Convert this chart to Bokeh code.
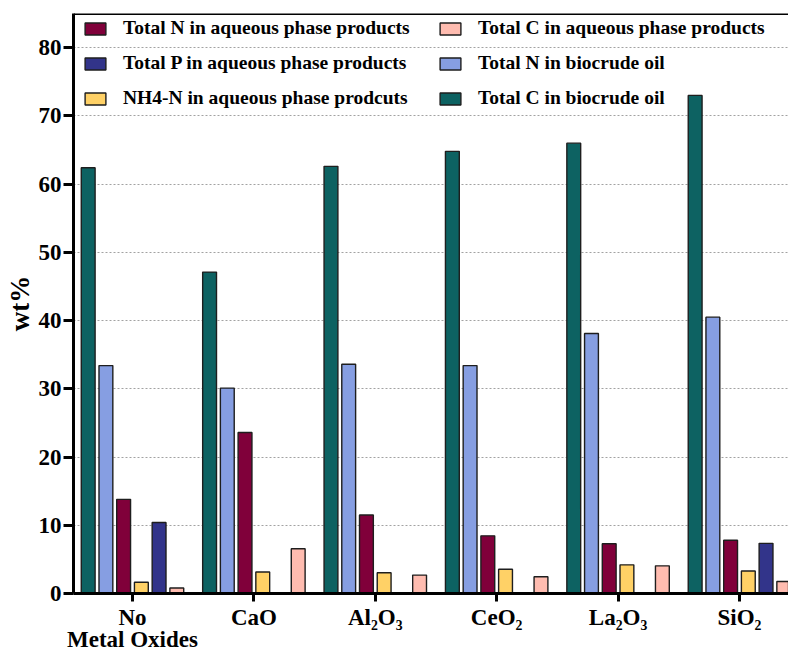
import math

from bokeh.plotting import figure
from bokeh.models import FixedTicker, Legend, LegendItem, Span, Range1d
from bokeh.embed import file_html
from bokeh.resources import INLINE

nan = math.nan

# Catalyst groups (x axis)
categories = ["No\nMetal Oxides", "CaO", "Al₂O₃", "CeO₂", "La₂O₃", "SiO₂"]

# wt% values per series
total_c_biocrude = [62.4, 47.1, 62.6, 64.8, 66.0, 73.0]
total_n_biocrude = [33.4, 30.1, 33.6, 33.4, 38.1, 40.5]
total_n_aqueous = [13.8, 23.6, 11.5, 8.45, 7.3, 7.8]
nh4_n_aqueous = [1.65, 3.15, 3.05, 3.55, 4.2, 3.3]
total_p_aqueous = [10.4, nan, nan, nan, nan, 7.35]
total_c_aqueous = [0.8, 6.55, 2.7, 2.45, 4.05, 1.75]

y_ticks = [0, 10, 20, 30, 40, 50, 60, 70, 80]

FONT = "Liberation Serif"

# series drawn left to right inside each group
series = [
    ("Total C in biocrude oil", total_c_biocrude, "#0d6262"),
    ("Total N in biocrude oil", total_n_biocrude, "#869ee2"),
    ("Total N in aqueous phase products", total_n_aqueous, "#80003a"),
    ("NH4-N in aqueous phase prodcuts", nh4_n_aqueous, "#ffd166"),
    ("Total P in aqueous phase products", total_p_aqueous, "#32348a"),
    ("Total C in aqueous phase products", total_c_aqueous, "#ffbcb0"),
]

p = figure(
    width=788, height=654,
    x_range=Range1d(-0.486, 5.404), y_range=Range1d(0, 85),
    output_backend="svg", toolbar_location=None,
    min_border_left=73, min_border_right=0, min_border_top=13, min_border_bottom=61,
)
p.outline_line_color = None
p.background_fill_color = "white"

pitch = 0.146
bar_w = 0.114
x_idx = list(range(len(categories)))
renderers = {}
for k, (name, vals, color) in enumerate(series):
    xs = [i + (k - 2.5) * pitch for i in x_idx]
    r = p.vbar(x=xs, top=vals, width=bar_w, bottom=0,
               fill_color=color, line_color="#1e1e1e", line_width=1.4)
    renderers[name] = r

# grid
p.xgrid.grid_line_color = None
p.ygrid.grid_line_color = "#8a8a8a"
p.ygrid.grid_line_dash = "2 2"
p.ygrid.grid_line_width = 0.8
p.ygrid.ticker = FixedTicker(ticks=y_ticks)

# y axis
p.yaxis.ticker = FixedTicker(ticks=y_ticks)
p.yaxis.axis_label = "wt%"
p.yaxis.axis_label_text_font = FONT
p.yaxis.axis_label_text_font_style = "bold"
p.yaxis.axis_label_text_font_size = "27px"
p.yaxis.axis_label_text_color = "black"
p.yaxis.axis_label_standoff = 1
p.yaxis.major_label_text_font = FONT
p.yaxis.major_label_text_font_style = "bold"
p.yaxis.major_label_text_font_size = "23px"
p.yaxis.major_label_text_color = "black"
p.yaxis.major_label_standoff = 2
p.yaxis.axis_line_width = 3
p.yaxis.axis_line_color = "black"
p.yaxis.major_tick_line_width = 3
p.yaxis.major_tick_in = 0
p.yaxis.major_tick_out = 10
p.yaxis.minor_tick_line_color = None

# x axis
p.xaxis.ticker = FixedTicker(ticks=x_idx)
p.xaxis.major_label_overrides = {i: c for i, c in enumerate(categories)}
p.xaxis.major_label_text_font = FONT
p.xaxis.major_label_text_font_style = "bold"
p.xaxis.major_label_text_font_size = "23px"
p.xaxis.major_label_text_color = "black"
p.xaxis.major_label_text_line_height = 0.88
p.xaxis.major_label_standoff = 3
p.xaxis.axis_line_width = 3
p.xaxis.axis_line_color = "black"
p.xaxis.major_tick_line_width = 3
p.xaxis.major_tick_in = 0
p.xaxis.major_tick_out = 8
p.xaxis.minor_tick_line_color = None

# top frame line
p.add_layout(Span(location=85, dimension="width", line_color="black", line_width=3))

def make_legend(names, loc):
    items = [LegendItem(label=n, renderers=[renderers[n]]) for n in names]
    lg = Legend(items=items, location=loc, orientation="vertical")
    lg.label_text_font = FONT
    lg.label_text_font_style = "bold"
    lg.label_text_font_size = "19.5px"
    lg.label_text_color = "black"
    lg.label_height = 15
    lg.glyph_height = 15
    lg.glyph_width = 26
    lg.label_standoff = 15
    lg.spacing = 13
    lg.padding = 0
    lg.margin = 0
    lg.border_line_color = None
    lg.background_fill_alpha = 0
    return lg

p.add_layout(make_legend([
    "Total N in aqueous phase products",
    "Total P in aqueous phase products",
    "NH4-N in aqueous phase prodcuts",
], (9, 484)))
p.add_layout(make_legend([
    "Total C in aqueous phase products",
    "Total N in biocrude oil",
    "Total C in biocrude oil",
], (364, 484)))

open("out.html", "w").write(file_html(p, INLINE))
